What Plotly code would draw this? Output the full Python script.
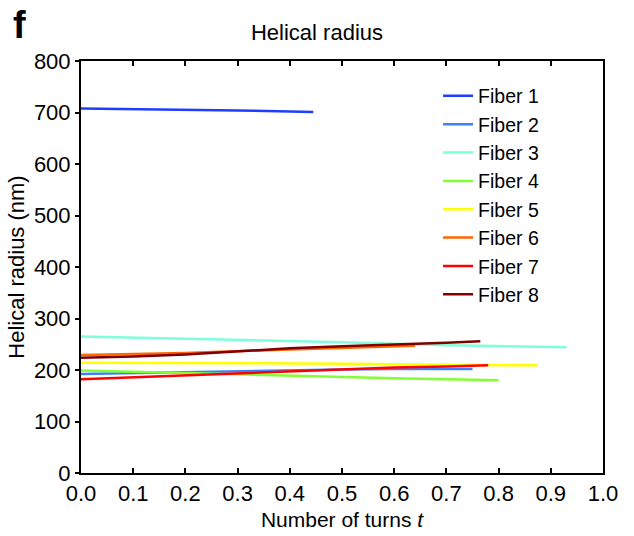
import plotly.graph_objects as go

names = ["Fiber 1", "Fiber 2", "Fiber 3", "Fiber 4", "Fiber 5", "Fiber 6", "Fiber 7", "Fiber 8"]
colors = ["#1f3dff", "#3f80ff", "#7fffd9", "#80ff33", "#ffff00", "#ff6600", "#ff0000", "#800000"]

t1 = [0.0, 0.1, 0.2, 0.3, 0.4, 0.445]
r1 = [708, 707, 706, 704, 702, 701]
t2 = [0.0, 0.1, 0.2, 0.3, 0.4, 0.5, 0.6, 0.75]
r2 = [192, 194, 196, 197, 199, 201, 202, 202]
t3 = [0.0, 0.2, 0.35, 0.5, 0.7, 0.93]
r3 = [265, 261, 258, 254, 248, 244]
t4 = [0.0, 0.2, 0.4, 0.6, 0.8]
r4 = [199, 194, 188, 184, 180]
t5 = [0.0, 0.2, 0.35, 0.5, 0.7, 0.875]
r5 = [214, 214, 213, 212, 210, 209]
t6 = [0.0, 0.2, 0.4, 0.64]
r6 = [229, 233, 240, 247]
t7 = [0.0, 0.1, 0.2, 0.3, 0.4, 0.5, 0.6, 0.7, 0.78]
r7 = [182, 186, 190, 194, 198, 202, 205, 207, 209]
t8 = [0.0, 0.1, 0.2, 0.3, 0.4, 0.5, 0.6, 0.7, 0.765]
r8 = [224, 226, 230, 236, 242, 246, 249, 253, 256]

xs = [t1, t2, t3, t4, t5, t6, t7, t8]
ys = [r1, r2, r3, r4, r5, r6, r7, r8]

x_ticks = [0.0, 0.1, 0.2, 0.3, 0.4, 0.5, 0.6, 0.7, 0.8, 0.9, 1.0]
y_ticks = [0, 100, 200, 300, 400, 500, 600, 700, 800]

FONT = "Liberation Sans, Arial, sans-serif"

fig = go.Figure()
for i, (n, c) in enumerate(zip(names, colors)):
    fig.add_trace(go.Scatter(x=xs[i], y=ys[i], mode="lines", name=n,
                             line=dict(color=c, width=2.5)))

fig.update_layout(
    width=634, height=536,
    margin=dict(l=81, r=31, t=61, b=63),
    paper_bgcolor="white", plot_bgcolor="white",
    font=dict(family=FONT, size=22, color="black"),
    title=dict(text="Helical radius", x=0.5, xanchor="center", y=0.94, yanchor="middle",
               font=dict(size=22, family=FONT, color="black")),
    showlegend=True,
    legend=dict(x=0.684, y=0.962, xanchor="left", yanchor="top", bgcolor="rgba(0,0,0,0)",
                font=dict(size=19.5, family=FONT)),
    xaxis=dict(range=[0, 1], tickvals=x_ticks, ticktext=[f"{v:.1f}" for v in x_ticks],
               ticks="inside", ticklen=5, tickwidth=1.5, tickcolor="black",
               showline=True, linecolor="black", linewidth=2, mirror="ticks",
               showgrid=False, zeroline=False, tickfont=dict(size=22), automargin=False,
               title=dict(text="Number of turns <i>t</i>", standoff=7,
                          font=dict(size=21, family=FONT))),
    yaxis=dict(range=[0, 800], tickvals=y_ticks,
               ticks="outside", ticklen=4, tickwidth=1.5, tickcolor="black",
               showline=True, linecolor="black", linewidth=2, mirror=True,
               showgrid=False, zeroline=False, tickfont=dict(size=22), automargin=False,
               title=dict(text="Helical radius (nm)", standoff=3,
                          font=dict(size=22, family=FONT))),
    yaxis2=dict(range=[0, 800], tickvals=y_ticks, overlaying="y", side="right",
                ticks="inside", ticklen=4, tickwidth=1.5, tickcolor="black",
                showticklabels=False, showgrid=False, zeroline=False, showline=False),
)

fig.add_annotation(text="<b>f</b>", xref="paper", yref="paper", x=-0.135, y=1.087,
                   xanchor="left", yanchor="middle", showarrow=False,
                   font=dict(size=38, family=FONT, color="black"))

fig.write_html("out.html")
